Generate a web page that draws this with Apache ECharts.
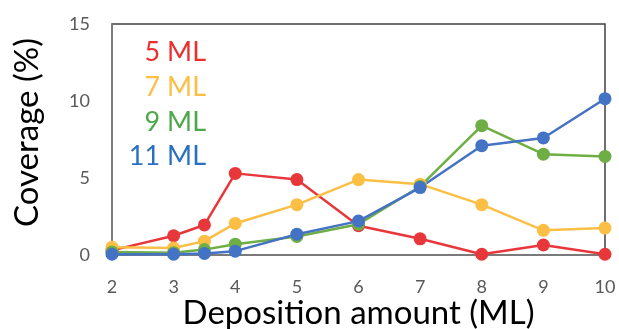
<!DOCTYPE html>
<html><head><meta charset="utf-8">
<script src="https://cdn.jsdelivr.net/npm/echarts@6/dist/echarts.min.js"></script>
<style>html,body{margin:0;padding:0;background:#fff}#c{width:619px;height:329px}</style>
</head><body><div id="c"></div>
<script>
const xValues = [2, 3, 3.5, 4, 5, 6, 7, 8, 9, 10];
const seriesNames = ['5 ML', '7 ML', '9 ML', '11 ML'];
const cov5 = [0.3, 1.25, 1.95, 5.3, 4.9, 1.9, 1.05, 0.05, 0.65, 0.05];
const cov7 = [0.5, 0.45, 0.9, 2.05, 3.27, 4.9, 4.6, 3.27, 1.6, 1.75];
const cov9 = [0.2, 0.15, 0.35, 0.7, 1.2, 2.0, 4.45, 8.4, 6.55, 6.4];
const cov11 = [0.05, 0.05, 0.1, 0.25, 1.35, 2.2, 4.38, 7.1, 7.6, 10.15];
const yTicks = [0, 5, 10, 15];

const lineColors = ['#E8373A', '#FBBF45', '#6FAE45', '#4472C4'];
const textColors = ['#E8302F', '#FBBF45', '#4DA84B', '#2A70C0'];
const allValues = [cov5, cov7, cov9, cov11];

const chart = echarts.init(document.getElementById('c'));
const font = 'Lato, "Open Sans", sans-serif';
chart.setOption({
  animation: false,
  textStyle: { fontFamily: font },
  grid: { left: 112, right: 14, top: 24, bottom: 74, containLabel: false, outerBoundsMode: 'none',
    show: true, borderColor: '#404040', borderWidth: 1.5 },
  graphic: seriesNames.map((n, i) => ({
    type: 'text', right: 619 - 206, top: 39 + i * 34.7, z: 100,
    style: { text: n, fill: textColors[i], fontSize: 27, fontFamily: font, textAlign: 'right' }
  })),
  xAxis: {
    type: 'value', min: 2, max: 10, interval: 1,
    name: 'Deposition amount (ML)', nameLocation: 'middle', nameGap: 42, nameMoveOverlap: false,
    nameTextStyle: { fontSize: 33, color: '#000', fontFamily: font },
    axisLine: { lineStyle: { color: '#7f7f7f', width: 1.5 } },
    axisTick: { show: false }, splitLine: { show: false },
    axisLabel: { fontSize: 18, color: '#595959', margin: 23 }
  },
  yAxis: {
    type: 'value', min: 0, max: 15, interval: 5,
    name: 'Coverage (%)', nameLocation: 'middle', nameGap: 68, nameRotate: 90, nameMoveOverlap: false,
    nameTextStyle: { fontSize: 33, color: '#000', fontFamily: font, padding: [0, 0, 0, 14] },
    axisLine: { show: true, lineStyle: { color: '#7f7f7f', width: 1.5 } },
    axisTick: { show: false }, splitLine: { show: false },
    axisLabel: { fontSize: 18, color: '#595959', margin: 22,
      formatter: v => yTicks.includes(v) ? String(v) : '' }
  },
  series: seriesNames.map((n, i) => ({
    name: n, type: 'line',
    data: xValues.map((x, j) => [x, allValues[i][j]]),
    symbol: 'circle', symbolSize: 13,
    lineStyle: { color: lineColors[i], width: 2.5 },
    itemStyle: { color: lineColors[i] }
  }))
});
</script></body></html>
